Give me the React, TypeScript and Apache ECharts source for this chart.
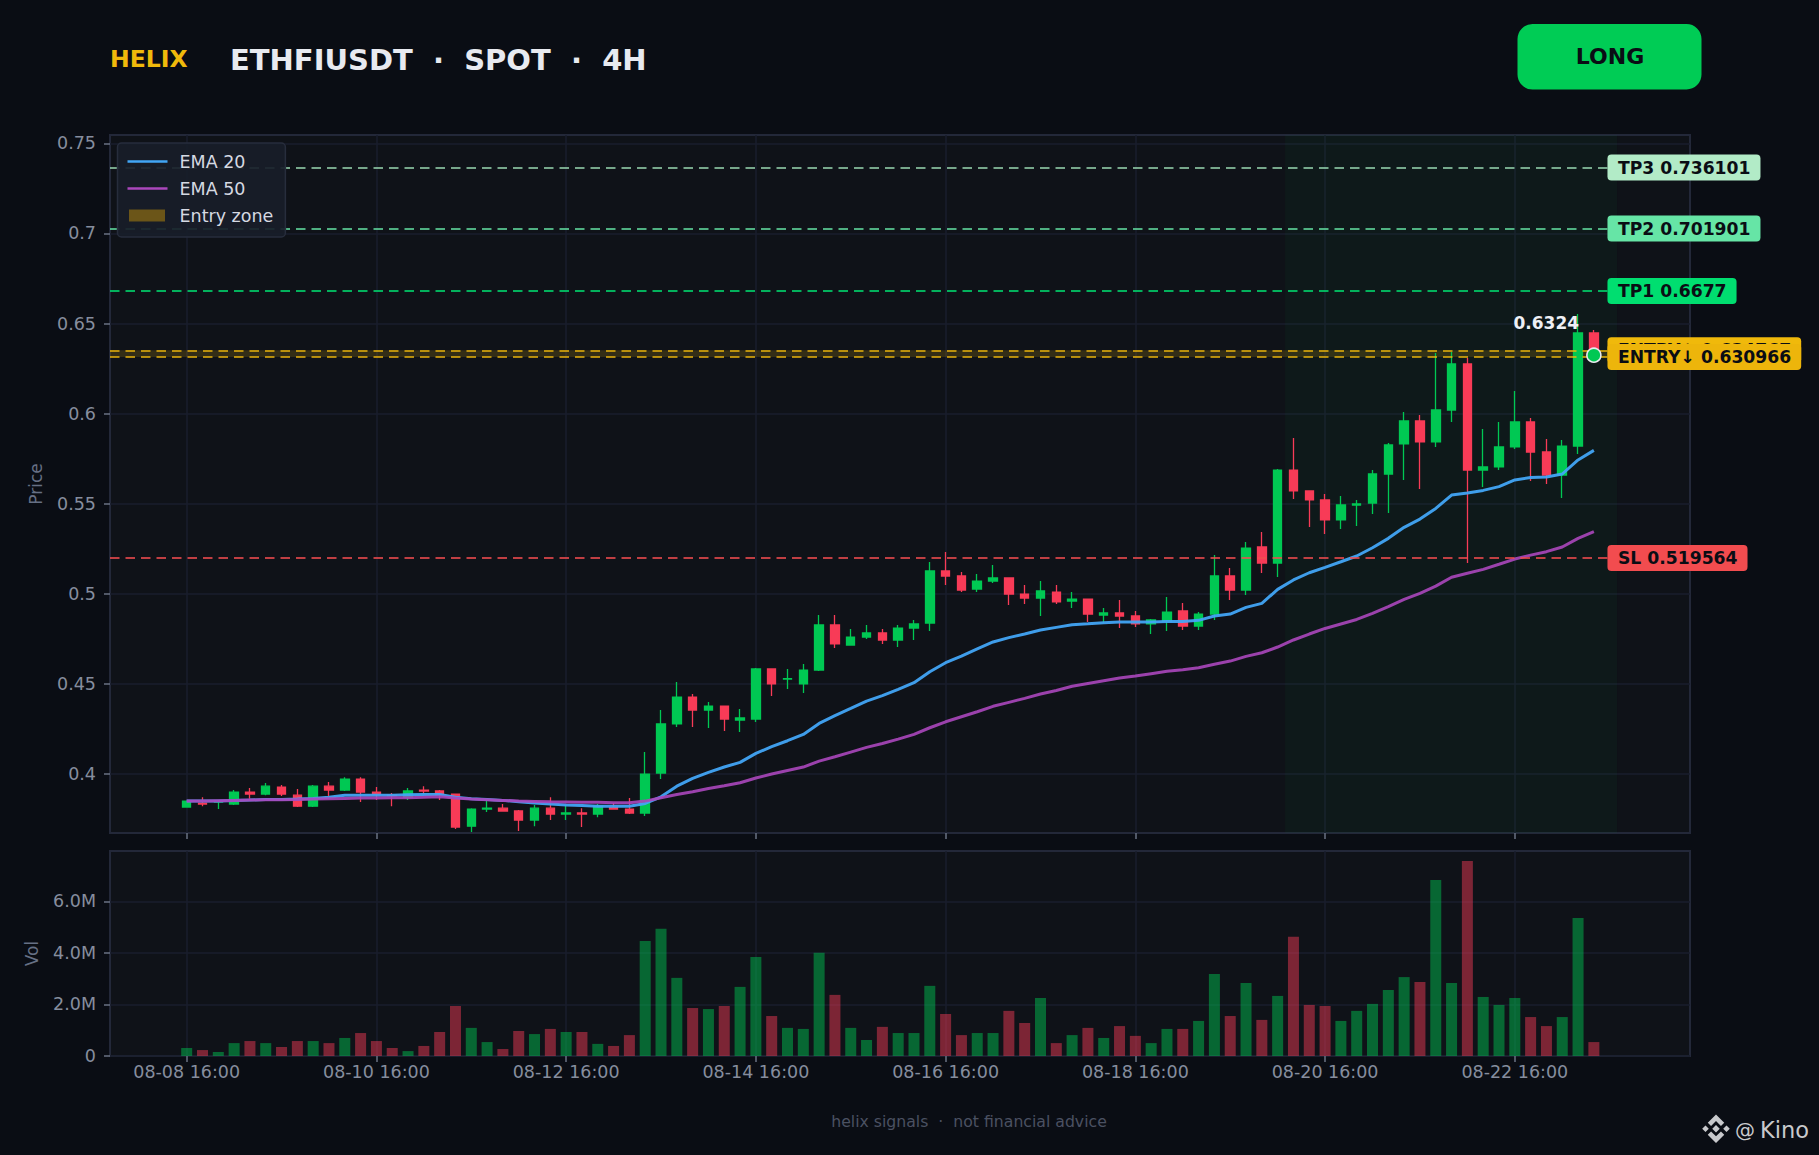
import React, { useEffect, useRef } from "react";
import * as echarts from "echarts";

const FONT = "DejaVu Sans";
const BG = "#0a0d14";
const UP = "#00c853";
const DOWN = "#f83b57";

const opens = [
  0.3817, 0.3839, 0.3845, 0.3834, 0.39, 0.3889, 0.3928, 0.3883, 0.3822, 0.3933,
  0.3911, 0.3972, 0.39, 0.3883, 0.3872, 0.3911, 0.3906, 0.3889, 0.3711, 0.3806,
  0.3811, 0.3795, 0.3745, 0.3811, 0.3778, 0.3784, 0.3778, 0.3813, 0.3806, 0.3784,
  0.4006, 0.4278, 0.4427, 0.4355, 0.4377, 0.43, 0.4305, 0.4583, 0.4527, 0.45,
  0.4577, 0.4827, 0.4716, 0.476, 0.4783, 0.4744, 0.481, 0.4838, 0.5127, 0.5099,
  0.5027, 0.5071, 0.5088, 0.4999, 0.4977, 0.501, 0.496, 0.4971, 0.4882, 0.4894,
  0.4877, 0.4833, 0.4849, 0.4905, 0.4821, 0.4888, 0.5099, 0.5021, 0.526, 0.5171,
  0.5687, 0.5571, 0.5521, 0.541, 0.5493, 0.5504, 0.5665, 0.5832, 0.5959, 0.5843,
  0.602, 0.6276, 0.5687, 0.5704, 0.5815, 0.5954, 0.5787, 0.5659, 0.582, 0.6448,
];
const closes = [
  0.385, 0.3834, 0.3848, 0.39, 0.3889, 0.3933, 0.3889, 0.3822, 0.3933, 0.3911,
  0.3972, 0.39, 0.3889, 0.388, 0.3906, 0.3906, 0.3889, 0.3706, 0.3806, 0.3811,
  0.3795, 0.3745, 0.3811, 0.3778, 0.3784, 0.3778, 0.3822, 0.3806, 0.3784, 0.4,
  0.4278, 0.4427, 0.4355, 0.4377, 0.4305, 0.4311, 0.4583, 0.45, 0.4529, 0.4577,
  0.4827, 0.4722, 0.476, 0.4783, 0.4744, 0.481, 0.4833, 0.5127, 0.5099, 0.5021,
  0.5071, 0.5088, 0.4999, 0.4977, 0.5016, 0.4955, 0.4971, 0.4888, 0.4894, 0.4877,
  0.4833, 0.4855, 0.4899, 0.4821, 0.4888, 0.5099, 0.5021, 0.5254, 0.5171, 0.5687,
  0.5571, 0.5521, 0.541, 0.5493, 0.5499, 0.5665, 0.5826, 0.5959, 0.5843, 0.602,
  0.6276, 0.5687, 0.5704, 0.5815, 0.5954, 0.5787, 0.5659, 0.582, 0.6448, 0.6324,
];
const lows = [
  0.3815, 0.3822, 0.3806, 0.3828, 0.3863, 0.3883, 0.3878, 0.3817, 0.3817, 0.3878,
  0.3906, 0.3845, 0.3856, 0.3822, 0.3856, 0.3889, 0.3856, 0.3695, 0.3678, 0.3789,
  0.3795, 0.3684, 0.3711, 0.3745, 0.3745, 0.3706, 0.3761, 0.3802, 0.3778, 0.3767,
  0.3972, 0.4261, 0.4261, 0.4255, 0.4239, 0.4233, 0.4289, 0.4433, 0.4472, 0.445,
  0.4572, 0.4699, 0.4716, 0.4749, 0.4722, 0.4705, 0.4744, 0.4794, 0.5049, 0.501,
  0.501, 0.506, 0.4938, 0.4944, 0.4877, 0.4944, 0.4921, 0.4844, 0.4838, 0.481,
  0.4816, 0.4777, 0.4794, 0.4799, 0.4799, 0.4855, 0.4966, 0.4993, 0.5116, 0.5093,
  0.5526, 0.5371, 0.5332, 0.536, 0.5376, 0.5443, 0.5449, 0.5632, 0.5582, 0.5815,
  0.5954, 0.5171, 0.5593, 0.5687, 0.5804, 0.5626, 0.561, 0.5532, 0.5776, 0.631,
];
const highs = [
  0.3852, 0.3871, 0.3856, 0.3911, 0.3922, 0.395, 0.3939, 0.3917, 0.3939, 0.3956,
  0.3983, 0.3983, 0.3928, 0.3895, 0.3922, 0.3933, 0.3911, 0.3889, 0.3811, 0.3856,
  0.3834, 0.38, 0.3828, 0.3872, 0.3828, 0.3811, 0.3834, 0.3839, 0.3867, 0.4122,
  0.4355, 0.4511, 0.4444, 0.44, 0.4377, 0.4361, 0.4588, 0.4583, 0.4583, 0.4611,
  0.4882, 0.4882, 0.4805, 0.4827, 0.4805, 0.4827, 0.4855, 0.5177, 0.5232, 0.5121,
  0.511, 0.516, 0.5088, 0.5049, 0.5071, 0.5049, 0.501, 0.4971, 0.4921, 0.4966,
  0.4905, 0.486, 0.4982, 0.4949, 0.4899, 0.5215, 0.5143, 0.5288, 0.5343, 0.5693,
  0.5865, 0.5571, 0.5554, 0.5543, 0.5521, 0.5687, 0.5837, 0.6009, 0.5992, 0.6337,
  0.6342, 0.6309, 0.5915, 0.5954, 0.6126, 0.5976, 0.5859, 0.5854, 0.6553, 0.6464,
];
const volumesM = [
  0.31, 0.23, 0.155, 0.5, 0.58, 0.5, 0.35, 0.58, 0.58, 0.5,
  0.7, 0.89, 0.58, 0.31, 0.19, 0.39, 0.93, 1.94, 1.09, 0.54,
  0.27, 0.97, 0.85, 1.05, 0.93, 0.93, 0.47, 0.39, 0.81, 4.46,
  4.93, 3.03, 1.86, 1.82, 1.94, 2.68, 3.84, 1.55, 1.09, 1.05,
  4.0, 2.37, 1.09, 0.62, 1.13, 0.89, 0.89, 2.72, 1.63, 0.81,
  0.89, 0.89, 1.75, 1.28, 2.25, 0.5, 0.81, 1.09, 0.7, 1.16,
  0.78, 0.5, 1.05, 1.05, 1.36, 3.18, 1.55, 2.83, 1.4, 2.33,
  4.62, 1.98, 1.94, 1.36, 1.75, 2.02, 2.56, 3.06, 2.87, 6.83,
  2.83, 7.56, 2.29, 1.98, 2.25, 1.51, 1.16, 1.51, 5.35, 0.54,
];
const ema20 = [
  0.385, 0.385, 0.385, 0.3854, 0.3856, 0.3859, 0.3859, 0.3861, 0.3865, 0.3871,
  0.3882, 0.3883, 0.3883, 0.3883, 0.3885, 0.3887, 0.3887, 0.3871, 0.3863, 0.3859,
  0.3854, 0.3846, 0.3839, 0.3834, 0.3828, 0.3826, 0.3822, 0.3822, 0.3821, 0.3837,
  0.3874, 0.3933, 0.3976, 0.4009, 0.4039, 0.4065, 0.4115, 0.4152, 0.4185, 0.422,
  0.4281, 0.4324, 0.4364, 0.4405, 0.4435, 0.447, 0.4507, 0.4568, 0.4618, 0.4655,
  0.4694, 0.4733, 0.4757, 0.4777, 0.4799, 0.4814, 0.4829, 0.4834, 0.484, 0.4844,
  0.4844, 0.4844, 0.4847, 0.4847, 0.4853, 0.4877, 0.4888, 0.4925, 0.4947, 0.5025,
  0.5077, 0.5117, 0.5147, 0.5178, 0.521, 0.5256, 0.5308, 0.5369, 0.5415, 0.5474,
  0.5548, 0.556, 0.5574, 0.5595, 0.5632, 0.5645, 0.5648, 0.5665, 0.5743, 0.5796,
];
const ema50 = [
  0.385, 0.385, 0.3852, 0.3854, 0.3856, 0.3858, 0.3858, 0.3859, 0.3861, 0.3863,
  0.3865, 0.3867, 0.3867, 0.3869, 0.3869, 0.3871, 0.3874, 0.3867, 0.3861, 0.3858,
  0.3854, 0.385, 0.3848, 0.3846, 0.3845, 0.3843, 0.3843, 0.3841, 0.3841, 0.385,
  0.3869, 0.3887, 0.3902, 0.392, 0.3935, 0.3952, 0.3978, 0.4, 0.402, 0.4039,
  0.4072, 0.4096, 0.4122, 0.4148, 0.417, 0.4194, 0.422, 0.4257, 0.429, 0.4318,
  0.4346, 0.4376, 0.4398, 0.442, 0.4444, 0.4464, 0.4487, 0.4503, 0.4518, 0.4533,
  0.4544, 0.4557, 0.457, 0.4579, 0.459, 0.4609, 0.4627, 0.4653, 0.4673, 0.4705,
  0.4744, 0.4777, 0.4808, 0.4833, 0.4858, 0.4892, 0.4929, 0.4969, 0.5003, 0.5043,
  0.5092, 0.5114, 0.5136, 0.5164, 0.5193, 0.5215, 0.5234, 0.526, 0.5308, 0.5345,
];

const xTickIndexes = [0, 12, 24, 36, 48, 60, 72, 84];
const xTickLabels = [
  "08-08 16:00", "08-10 16:00", "08-12 16:00", "08-14 16:00",
  "08-16 16:00", "08-18 16:00", "08-20 16:00", "08-22 16:00",
];
const priceTicks = [0.4, 0.45, 0.5, 0.55, 0.6, 0.65, 0.7, 0.75];
const volumeTicks = [0, 2, 4, 6];
const X_MIN = -4.85;
const X_MAX = 95.08;
const LINE_END = 89.86;
const lastPrice = 0.6324;

const levelNames = ["TP3", "TP2", "TP1", "ENTRY↑", "ENTRY↓", "SL"];
const levelTexts = ["0.736101", "0.701901", "0.6677", "0.634767", "0.630966", "0.519564"];
const levelValues = [0.7365, 0.7027, 0.6681, 0.6351, 0.6314, 0.5199];
const levelLineColors = [
  "rgba(160,225,185,0.72)", "rgba(102,229,166,0.75)", "rgba(0,222,112,0.78)",
  "rgba(240,185,11,0.72)", "rgba(240,185,11,0.72)", "rgba(242,76,79,0.78)",
];
const levelFills = ["#b2ebc7", "#66e5a6", "#00de70", "#f0b90b", "#edb50b", "#f24c4f"];

const LOGO = "M12 9.5L14.5 12L12 14.5L9.5 12Z M5 9.8L7.2 12L5 14.2L2.8 12Z M19 9.8L21.2 12L19 14.2L16.8 12Z M12 2.5L17.5 8L15.3 10.2L12 6.9L8.7 10.2L6.5 8Z M12 21.5L17.5 16L15.3 13.8L12 17.1L8.7 13.8L6.5 16Z";
const LEGEND_LINE_ICON = "path://M0 0L0 0ZM0 7.2H40V9.8H0ZM40 17L40 17Z";
const LEGEND_ZONE_ICON = "path://M0 0L0 0ZM1.5 2.5H37.5V14.5H1.5ZM40 17L40 17Z";

const xAxisBase = (gridIndex: number, showLabels: boolean) => ({
  type: "value",
  gridIndex,
  min: X_MIN,
  max: X_MAX,
  axisLine: { show: false, onZero: false },
  axisTick: {
    show: true,
    customValues: xTickIndexes,
    length: 6,
    lineStyle: { color: "#6a7283", width: 1.5 },
  },
  splitLine: { show: true, lineStyle: { color: "#1a1e2c", width: 1.5 } },
  axisLabel: {
    show: showLabels,
    customValues: xTickIndexes,
    color: "#868d9e",
    fontFamily: FONT,
    fontSize: 17.5,
    margin: 7,
    formatter: (v: number) => xTickLabels[xTickIndexes.indexOf(v)] ?? "",
  },
});

const yAxisBase = (gridIndex: number, name: string, ticks: number[], min: number, max: number, gap: number, fmt: (v: number) => string) => ({
  type: "value",
  gridIndex,
  min,
  max,
  name,
  nameLocation: "middle",
  nameGap: gap,
  nameTextStyle: { color: "#667085", fontFamily: FONT, fontSize: 17 },
  axisLine: { show: false, onZero: false },
  axisTick: {
    show: true,
    customValues: ticks,
    length: 6,
    lineStyle: { color: "#6a7283", width: 1.5 },
  },
  splitLine: { show: true, lineStyle: { color: "#1a1e2c", width: 1.5 } },
  axisLabel: {
    customValues: ticks,
    color: "#868d9e",
    fontFamily: FONT,
    fontSize: 17.5,
    margin: 14,
    formatter: fmt,
  },
});

export default function App() {
  const ref = useRef<HTMLDivElement>(null);
  useEffect(() => {
    if (!ref.current) return;
    echarts.graphic.registerShape("logo", echarts.graphic.extendPath(LOGO as any, {}) as any);
    const chart = echarts.init(ref.current, undefined, { renderer: "svg" });
    const idx = opens.map((_, i) => i);
    chart.setOption({
      animation: false,
      backgroundColor: BG,
      textStyle: { fontFamily: FONT },
      grid: [
        { left: 110, top: 135, width: 1580, height: 698, show: true, backgroundColor: "#0f1218", borderColor: "#232839", borderWidth: 2, z: 0 },
        { left: 110, top: 851, width: 1580, height: 205, show: true, backgroundColor: "#0f1218", borderColor: "#232839", borderWidth: 2, z: 0 },
      ],
      xAxis: [xAxisBase(0, false), xAxisBase(1, true)],
      yAxis: [
        yAxisBase(0, "Price", priceTicks, 0.3673, 0.7546, 66, (v) => String(v)),
        yAxisBase(1, "Vol", volumeTicks, 0, 7.95, 70, (v) => (v === 0 ? "0" : `${v.toFixed(1)}M`)),
      ],
      legend: {
        show: true,
        orient: "vertical",
        left: 117.5,
        top: 143,
        padding: [9.5, 12, 12.5, 10],
        itemGap: 9,
        itemWidth: 40,
        itemHeight: 17,
        z: 20,
        backgroundColor: "rgba(24,29,41,0.92)",
        borderColor: "#272d3c",
        borderWidth: 1.5,
        borderRadius: 4,
        textStyle: { color: "#d5d9e2", fontFamily: FONT, fontSize: 17.5, padding: [0, 0, 0, 7] },
        data: [
          { name: "EMA 20", icon: LEGEND_LINE_ICON },
          { name: "EMA 50", icon: LEGEND_LINE_ICON },
          { name: "Entry zone", icon: LEGEND_ZONE_ICON, itemStyle: { color: "#6b5518" } },
        ],
      },
      series: [
        {
          name: "Candles",
          type: "candlestick",
          xAxisIndex: 0,
          yAxisIndex: 0,
          barWidth: 9,
          z: 3,
          clip: false,
          itemStyle: { color: UP, color0: DOWN, borderColor: UP, borderColor0: DOWN, borderColorDoji: UP, borderWidth: 1.3 },
          data: idx.map((i) => [i, opens[i], closes[i], lows[i], highs[i]]),
          markArea: {
            silent: true,
            z: 1,
            itemStyle: { color: "rgba(0,200,83,0.04)" },
            data: [[{ xAxis: 69.47 }, { xAxis: 90.47 }]],
          },
        },
        {
          name: "EMA 20",
          type: "line",
          xAxisIndex: 0,
          yAxisIndex: 0,
          z: 4,
          symbol: "none",
          lineStyle: { color: "#42a5f5", width: 3, opacity: 0.95 },
          itemStyle: { color: "#42a5f5" },
          data: idx.map((i) => [i, ema20[i]]),
        },
        {
          name: "EMA 50",
          type: "line",
          xAxisIndex: 0,
          yAxisIndex: 0,
          z: 4,
          symbol: "none",
          lineStyle: { color: "#ab47bc", width: 3, opacity: 0.9 },
          itemStyle: { color: "#ab47bc" },
          data: idx.map((i) => [i, ema50[i]]),
        },
        {
          name: "Entry zone",
          type: "line",
          xAxisIndex: 0,
          yAxisIndex: 0,
          z: 2,
          symbol: "none",
          itemStyle: { color: "#6b5518" },
          data: [],
          markArea: {
            silent: true,
            z: 2,
            itemStyle: { color: "rgba(240,185,11,0.16)" },
            data: [[{ xAxis: X_MIN, yAxis: levelValues[4] }, { xAxis: LINE_END, yAxis: levelValues[3] }]],
          },
          markLine: {
            silent: true,
            symbol: "none",
            z: 5,
            data: levelNames.map((n, k) => [
              {
                xAxis: X_MIN,
                yAxis: levelValues[k],
                lineStyle: { color: levelLineColors[k], type: [9.5, 6], width: 1.8, opacity: 1 },
                label: {
                  show: true,
                  position: "end",
                  distance: 0,
                  formatter: `${n} ${levelTexts[k]}`,
                  backgroundColor: levelFills[k],
                  color: "#0a0d14",
                  fontFamily: FONT,
                  fontWeight: "bold",
                  fontSize: 17.2,
                  padding: [5, 10, 4, 10.5],
                  borderRadius: 4,
                },
              },
              { xAxis: LINE_END, yAxis: levelValues[k] },
            ]),
          },
        },
        {
          name: "Last",
          type: "scatter",
          xAxisIndex: 0,
          yAxisIndex: 0,
          z: 8,
          symbol: "circle",
          symbolSize: 14,
          itemStyle: { color: UP, borderColor: "#e8eaf0", borderWidth: 1.6, opacity: 1 },
          label: {
            show: true,
            position: "left",
            distance: 7,
            offset: [0, -32.5],
            formatter: String(lastPrice),
            color: "#eef0f5",
            opacity: 1,
            fontFamily: FONT,
            fontWeight: "bold",
            fontSize: 17,
          },
          data: [[89, lastPrice]],
        },
        {
          name: "Volume",
          type: "bar",
          xAxisIndex: 1,
          yAxisIndex: 1,
          barWidth: 11,
          z: 3,
          data: idx.map((i) => ({
            value: [i, volumesM[i]],
            itemStyle: { color: closes[i] >= opens[i] ? UP : DOWN, opacity: 0.47 },
          })),
        },
      ],
      graphic: [
        { type: "text", x: 110, y: 59, style: { text: "HELIX", fill: "#f0b90b", fontFamily: FONT, fontWeight: "bold", fontSize: 23.5, textVerticalAlign: "middle" } },
        { type: "text", x: 230, y: 60, style: { text: "ETHFIUSDT  ·  SPOT  ·  4H", fill: "#e8eaf0", fontFamily: FONT, fontWeight: "bold", fontSize: 29, textVerticalAlign: "middle" } },
        { type: "rect", x: 1517.5, y: 24, shape: { width: 184, height: 65.5, r: 15 }, style: { fill: "#00cc55" } },
        { type: "text", x: 1610, y: 56, style: { text: "LONG", fill: "#0a0d14", fontFamily: FONT, fontWeight: "bold", fontSize: 22, textAlign: "center", textVerticalAlign: "middle" } },
        { type: "text", x: 969, y: 1121, style: { text: "helix signals  ·  not financial advice", fill: "#4b5162", fontFamily: FONT, fontSize: 15.7, textAlign: "center", textVerticalAlign: "middle" } },
        { type: "logo", x: 1698, y: 1110.7, scaleX: 1.5, scaleY: 1.5, style: { fill: "#c8c9cc" } },
        { type: "text", x: 1735, y: 1130, style: { text: "@", fill: "#c8c9cc", fontFamily: FONT, fontSize: 20, textVerticalAlign: "middle" } },
        { type: "text", x: 1760, y: 1130, style: { text: "Kino", fill: "#c8c9cc", fontFamily: FONT, fontSize: 22.5, textVerticalAlign: "middle" } },
      ],
    });
    return () => chart.dispose();
  }, []);
  return <div ref={ref} style={{ position: "absolute", left: 0, top: 0, width: 1819, height: 1155 }} />;
}
